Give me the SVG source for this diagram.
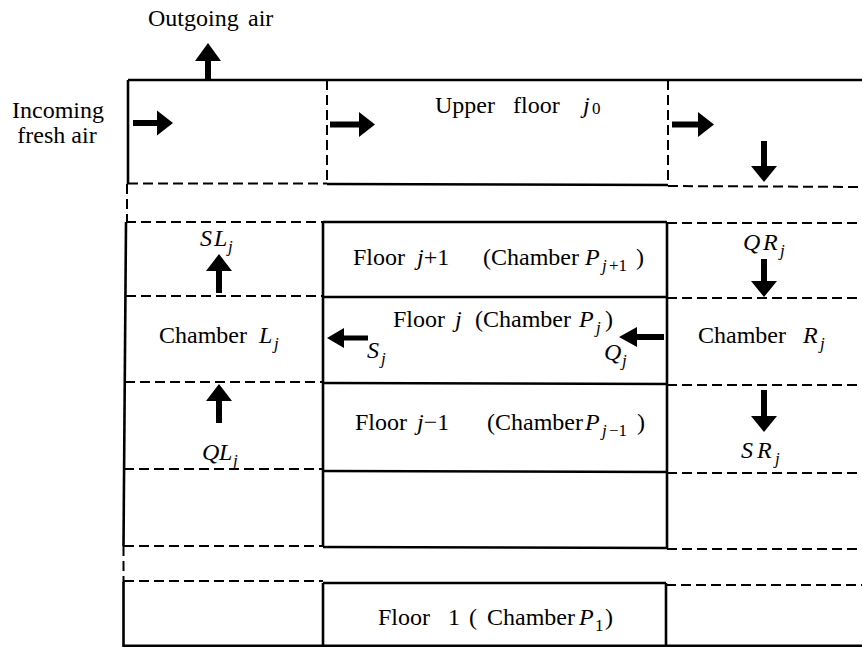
<svg xmlns="http://www.w3.org/2000/svg" width="862" height="647" viewBox="0 0 862 647">
  <style>
    .solid { stroke: #000; stroke-width: 2.6; fill: none; }
    .dash { stroke: #000; stroke-width: 2; fill: none; stroke-dasharray: 10 5; }
    .arrow { fill: #000; stroke: none; }
    text { font-family: "Liberation Serif", "Times New Roman", serif; font-size: 24px; fill: #000; }
    .it { font-style: italic; }
    .sub { font-size: 17px; font-style: italic; }
    .subr { font-size: 17px; font-style: normal; }
  </style>
  <rect width="862" height="647" fill="#fff"/>

  <!-- building outline: outer walls, upper floor -->
  <g id="upper-floor">
    <line class="solid" x1="128" y1="80" x2="862" y2="80"/>
    <line class="solid" x1="128" y1="80" x2="128" y2="184"/>
    <line class="dash" x1="327" y1="80" x2="327" y2="184"/>
    <line class="dash" x1="668" y1="80" x2="668" y2="185"/>
    <line class="dash" x1="128" y1="183.5" x2="327" y2="183.5"/>
    <line class="solid" x1="327" y1="184" x2="668" y2="185"/>
    <line class="dash" x1="668" y1="186" x2="862" y2="187"/>
    <text x="435" y="113">Upper</text>
    <text x="513" y="113">floor</text>
    <text class="it" x="583" y="113">j</text>
    <text x="592" y="114" style="font-size:17px">0</text>
  </g>

  <!-- left wall below upper floor -->
  <g id="left-wall">
    <line class="dash" x1="127" y1="184" x2="127" y2="223"/>
    <line class="solid" x1="126" y1="222" x2="123.5" y2="546"/>
    <line class="dash" x1="123.5" y1="546" x2="123.5" y2="583"/>
    <line class="solid" x1="123.5" y1="582" x2="123.5" y2="647"/>
  </g>

  <!-- central stack of floors (chambers P) -->
  <g id="chambers-p">
    <line class="solid" x1="323" y1="222" x2="667" y2="222"/>
    <line class="solid" x1="323" y1="222" x2="323" y2="547"/>
    <line class="solid" x1="667" y1="222" x2="667" y2="548"/>
    <line class="solid" x1="323" y1="297" x2="667" y2="297"/>
    <line class="solid" x1="323" y1="383" x2="667" y2="384"/>
    <line class="solid" x1="323" y1="471" x2="667" y2="472"/>
    <line class="solid" x1="323" y1="547" x2="667" y2="548"/>

    <text x="353" y="265">Floor</text>
    <text x="417" y="265"><tspan class="it">j</tspan>+1</text>
    <text x="483" y="265">(Chamber</text>
    <text class="it" x="585" y="265">P</text>
    <text class="sub" x="602" y="271">j</text>
    <text class="subr" x="609" y="271">+1</text>
    <text x="636" y="265">)</text>

    <text x="393" y="327">Floor</text>
    <text class="it" x="455" y="327">j</text>
    <text x="475" y="327">(Chamber</text>
    <text class="it" x="579" y="327">P</text>
    <text class="sub" x="596" y="333">j</text>
    <text x="605" y="327">)</text>

    <text x="355" y="430">Floor</text>
    <text x="417" y="430"><tspan class="it">j</tspan>−1</text>
    <text x="487" y="430">(Chamber</text>
    <text class="it" x="585" y="430">P</text>
    <text class="sub" x="602" y="436">j</text>
    <text class="subr" x="609" y="436">−1</text>
    <text x="637" y="430">)</text>

    <text class="it" x="367" y="358">S</text>
    <text class="sub" x="381" y="364">j</text>
    <text class="it" x="604" y="360">Q</text>
    <text class="sub" x="622" y="366">j</text>
  </g>

  <!-- left chambers L -->
  <g id="chambers-l">
    <line class="dash" x1="126" y1="222" x2="323" y2="222"/>
    <line class="dash" x1="126" y1="296" x2="323" y2="296"/>
    <line class="dash" x1="125" y1="382" x2="323" y2="382"/>
    <line class="dash" x1="124" y1="469" x2="323" y2="469"/>
    <line class="dash" x1="124" y1="546" x2="323" y2="546"/>
    <text class="it" x="200" y="246">S</text>
    <text class="it" x="214" y="246">L</text>
    <text class="sub" x="228" y="252">j</text>
    <text x="159" y="343">Chamber</text>
    <text class="it" x="259" y="343">L</text>
    <text class="sub" x="274" y="349">j</text>
    <text class="it" x="202" y="460">Q</text>
    <text class="it" x="219" y="460">L</text>
    <text class="sub" x="233" y="466">j</text>
  </g>

  <!-- right chambers R -->
  <g id="chambers-r">
    <line class="dash" x1="667" y1="223" x2="862" y2="223"/>
    <line class="dash" x1="667" y1="298" x2="862" y2="298"/>
    <line class="dash" x1="667" y1="385" x2="862" y2="385"/>
    <line class="dash" x1="667" y1="473" x2="862" y2="473"/>
    <line class="dash" x1="667" y1="549" x2="862" y2="549"/>
    <text class="it" x="743" y="250">Q</text>
    <text class="it" x="763" y="250">R</text>
    <text class="sub" x="780" y="256">j</text>
    <text x="698" y="343">Chamber</text>
    <text class="it" x="803" y="343">R</text>
    <text class="sub" x="820" y="349">j</text>
    <text class="it" x="741" y="458">S</text>
    <text class="it" x="757" y="458">R</text>
    <text class="sub" x="775" y="464">j</text>
  </g>

  <!-- ground floor -->
  <g id="floor-1">
    <line class="dash" x1="124" y1="581" x2="323" y2="581"/>
    <line class="dash" x1="666" y1="585" x2="862" y2="585"/>
    <line class="solid" x1="323" y1="583" x2="666" y2="583"/>
    <line class="solid" x1="323" y1="583" x2="323" y2="647"/>
    <line class="solid" x1="666" y1="583" x2="666" y2="647"/>
    <line class="solid" x1="123" y1="645.7" x2="862" y2="645.7"/>
    <text x="378" y="625">Floor</text>
    <text x="448" y="625">1</text>
    <text x="469" y="625">(</text>
    <text x="487" y="625">Chamber</text>
    <text class="it" x="579" y="625">P</text>
    <text class="subr" x="595" y="631">1</text>
    <text x="605" y="625">)</text>
  </g>

  <!-- air inlet / outlet labels -->
  <g id="air-labels">
    <text x="148" y="26">Outgoing</text>
    <text x="248" y="26">air</text>
    <text x="58" y="118" text-anchor="middle">Incoming</text>
    <text x="57" y="143" text-anchor="middle">fresh air</text>
  </g>

  <!-- air flow arrows -->
  <g id="connectors">
    <path class="arrow" d="M133,120 H157 V110.5 L173,123 L157,135.5 V126 H133 Z"/>
    <path class="arrow" d="M330,121.5 H359 V112 L375,124.5 L359,137 V127.5 H330 Z"/>
    <path class="arrow" d="M672,121.5 H698 V112 L714,124.5 L698,137 V127.5 H672 Z"/>
    <path class="arrow" d="M761,141 V166 H751 L764,182 L777,166 H767 V141 Z"/>
    <path class="arrow" d="M761,259 V281 H751 L764,297 L777,281 H767 V259 Z"/>
    <path class="arrow" d="M761,390 V416 H751 L764,432 L777,416 H767 V390 Z"/>
    <path class="arrow" d="M205,80 V61 H195 L208,43 L221,61 H211 V80 Z"/>
    <path class="arrow" d="M216,293 V271 H206 L219,254 L232,271 H222 V293 Z"/>
    <path class="arrow" d="M216,423 V401 H206 L219,384 L232,401 H222 V423 Z"/>
    <path class="arrow" d="M368,335.5 H344 V328 L327,338 L344,348 V340.5 H368 Z"/>
    <path class="arrow" d="M664,334 H637 V327 L619,337 L637,347 V340 H664 Z"/>
  </g>
</svg>
